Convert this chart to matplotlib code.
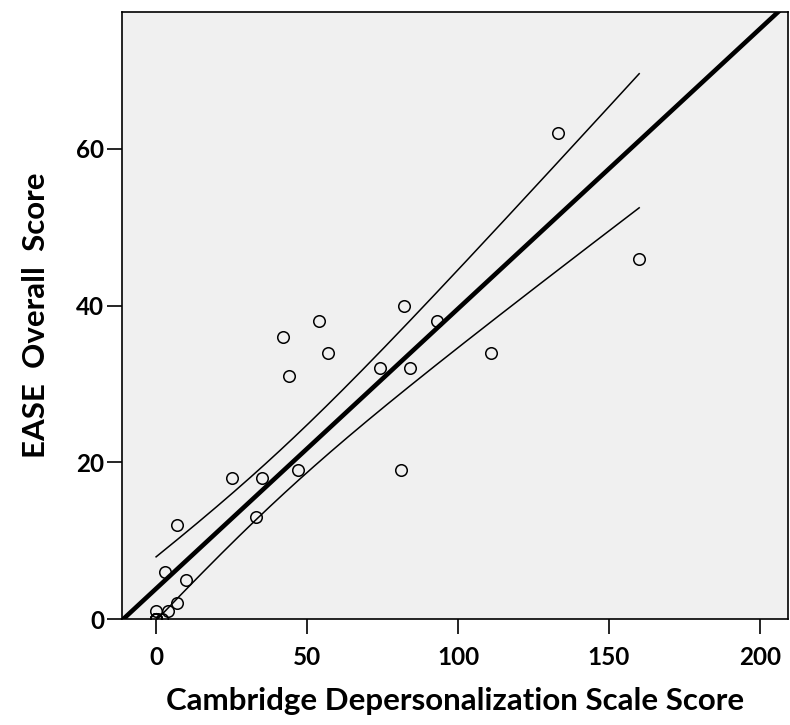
import numpy as np
import matplotlib
matplotlib.use("Agg")
from matplotlib import pyplot as plt

# Cambridge Depersonalization Scale score vs EASE overall score
# (several cases overlap at the origin)
cds_score = [0, 0, 0, 0, 0, 0, 2, 0, 4, 7, 10, 3, 7, 33, 25, 35, 47, 81,
             44, 74, 84, 57, 111, 42, 54, 93, 82, 160, 133]
ease_score = [0, 0, 0, 0, 0, 0, 0, 1, 1, 2, 5, 6, 12, 13, 18, 18, 19, 19,
              31, 32, 32, 34, 34, 36, 38, 38, 40, 46, 62]
x_ticks = [0, 50, 100, 150, 200]
y_ticks = [0, 20, 40, 60]

T_975 = 2.052  # t quantile, df = 27


def main():
    x = np.array(cds_score, dtype=float)
    y = np.array(ease_score, dtype=float)
    n = len(x)

    slope, intercept = np.polyfit(x, y, 1)
    resid = y - (slope * x + intercept)
    s = np.sqrt(np.sum(resid ** 2) / (n - 2))
    sxx = np.sum((x - x.mean()) ** 2)

    fig = plt.figure(figsize=(7.9, 7.25), dpi=100)
    ax = fig.add_axes([0.1544, 0.1460, 0.8431, 0.8380])
    ax.set_facecolor("#f0f0f0")

    xlim = (-11.3, 209.3)
    ylim = (0, 77.5)

    # fit line over the whole axis
    xf = np.linspace(xlim[0], xlim[1], 100)
    ax.plot(xf, slope * xf + intercept, color="black", lw=3.3, zorder=2)

    # 95% CI of the mean over data range
    xc = np.linspace(x.min(), x.max(), 200)
    half = T_975 * s * np.sqrt(1.0 / n + (xc - x.mean()) ** 2 / sxx)
    yc = slope * xc + intercept
    ax.plot(xc, yc + half, color="black", lw=1.1, zorder=2)
    ax.plot(xc, yc - half, color="black", lw=1.1, zorder=2)

    ax.plot(x, y, linestyle="none", marker="o", markersize=8.3,
            markerfacecolor="none", markeredgecolor="black",
            markeredgewidth=1.1, zorder=3, clip_on=True)

    ax.set_xlim(*xlim)
    ax.set_ylim(*ylim)
    ax.set_xticks(x_ticks)
    ax.set_yticks(y_ticks)

    font = {"family": "Lato", "weight": "bold"}
    for lab in ax.get_xticklabels() + ax.get_yticklabels():
        lab.set_fontfamily("Lato")
        lab.set_fontweight("bold")
        lab.set_fontsize(17.5)
    ax.tick_params(direction="out", length=11, width=1.2, color="black")
    ax.tick_params(axis="y", pad=2)
    ax.tick_params(axis="x", pad=8)
    for sp in ax.spines.values():
        sp.set_linewidth(1.2)
        sp.set_color("black")

    ax.set_xlabel("Cambridge Depersonalization Scale Score", fontsize=22.5,
                  labelpad=13, **font)
    ax.set_ylabel("EASE  Overall  Score", fontsize=22.5, labelpad=19, **font)

    fig.savefig("out.png", dpi=100)


if __name__ == '__main__':
    main()
